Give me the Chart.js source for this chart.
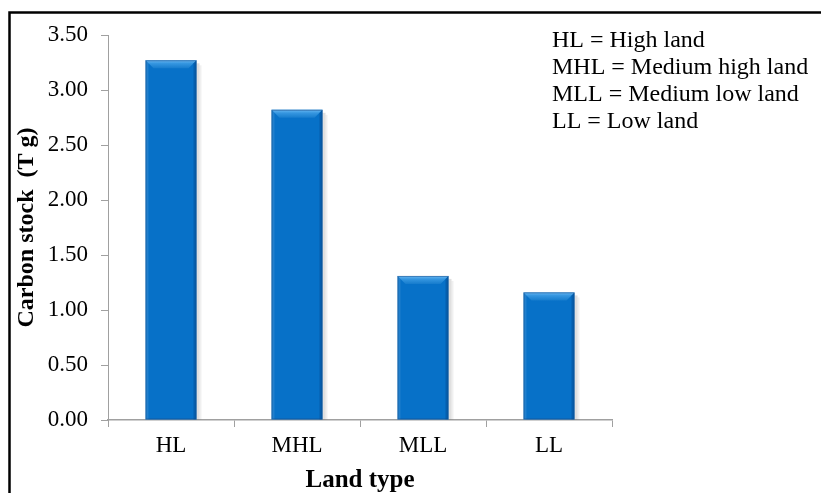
<!DOCTYPE html>
<html>
<head>
<meta charset="utf-8">
<script src="https://cdn.jsdelivr.net/npm/chart.js@4.4.1/dist/chart.umd.min.js"></script>
<style>
  html, body { margin: 0; padding: 0; background: #ffffff; }
  #wrap { position: relative; width: 821px; height: 493px; }
</style>
</head>
<body>
<div id="wrap"><canvas id="c" width="821" height="493"></canvas></div>
<script>
// Land types and their carbon stock (Tg)
const landTypes = ['HL', 'MHL', 'MLL', 'LL'];
const carbonStock = [3.27, 2.82, 1.31, 1.16];
const yTicks = [0, 0.5, 1, 1.5, 2, 2.5, 3, 3.5];
const keyLines = [
  'HL = High land',
  'MHL = Medium high land',
  'MLL = Medium low land',
  'LL = Low land'
];

const SERIF = "'Liberation Serif'";
const AXIS_GREY = '#a0a0a0';

// Bevelled bar face: lighter top chamfer, shaded side edges, soft drop shadow
const bevelBars = {
  id: 'bevelBars',
  beforeDatasetsDraw(chart) {
    const ctx = chart.ctx;
    chart.getDatasetMeta(0).data.forEach(bar => {
      const { x, y, base, width } = bar.getProps(['x', 'y', 'base', 'width'], true);
      ctx.save();
      ctx.fillStyle = 'rgba(0,0,0,0.12)';
      ctx.fillRect(x + width / 2, y + 3, 3, base - y - 3);
      ctx.fillStyle = 'rgba(0,0,0,0.06)';
      ctx.fillRect(x + width / 2 + 3, y + 5, 2, base - y - 5);
      ctx.restore();
    });
  },
  afterDatasetsDraw(chart) {
    const ctx = chart.ctx;
    chart.getDatasetMeta(0).data.forEach(bar => {
      const { x, y, base, width } = bar.getProps(['x', 'y', 'base', 'width'], true);
      const l = x - width / 2, r = x + width / 2, t = y, b = base;
      const bev = 8;
      ctx.save();
      // top chamfer
      const g = ctx.createLinearGradient(0, t, 0, t + bev);
      g.addColorStop(0, '#6ab8f2');
      g.addColorStop(0.4, '#3596e0');
      g.addColorStop(1, '#167ccd');
      ctx.fillStyle = g;
      ctx.beginPath();
      ctx.moveTo(l, t);
      ctx.lineTo(r, t);
      ctx.lineTo(r - bev, t + bev);
      ctx.lineTo(l + bev, t + bev);
      ctx.closePath();
      ctx.fill();
      // left edge
      ctx.fillStyle = 'rgba(255,255,255,0.10)';
      ctx.beginPath();
      ctx.moveTo(l, t);
      ctx.lineTo(l + 3, t + 3);
      ctx.lineTo(l + 3, b);
      ctx.lineTo(l, b);
      ctx.closePath();
      ctx.fill();
      // right edge
      ctx.fillStyle = 'rgba(0,40,90,0.25)';
      ctx.beginPath();
      ctx.moveTo(r, t);
      ctx.lineTo(r - 3, t + 3);
      ctx.lineTo(r - 3, b);
      ctx.lineTo(r, b);
      ctx.closePath();
      ctx.fill();
      // thin outline
      ctx.strokeStyle = 'rgba(20,70,130,0.5)';
      ctx.lineWidth = 1;
      ctx.strokeRect(l + 0.5, t + 0.5, width - 1, b - t - 1);
      ctx.restore();
    });
  }
};

// Abbreviation key in the upper right, plus the outer frame
const keyAndFrame = {
  id: 'keyAndFrame',
  afterDraw(chart) {
    const ctx = chart.ctx;
    ctx.save();
    ctx.fillStyle = '#000000';
    ctx.font = '24px ' + SERIF;
    ctx.textBaseline = 'alphabetic';
    ctx.textAlign = 'left';
    keyLines.forEach((s, i) => ctx.fillText(s, 552, 47 + i * 27));
    ctx.strokeStyle = '#000000';
    ctx.lineWidth = 2.5;
    ctx.beginPath();
    ctx.moveTo(9.5, 493);
    ctx.lineTo(9.5, 12.5);
    ctx.lineTo(821, 12.5);
    ctx.stroke();
    ctx.restore();
  }
};

new Chart(document.getElementById('c'), {
  type: 'bar',
  data: {
    labels: landTypes,
    datasets: [{
      data: carbonStock,
      backgroundColor: '#0771c8',
      borderWidth: 0,
      categoryPercentage: 1,
      barPercentage: 0.405
    }]
  },
  options: {
    responsive: false,
    animation: false,
    devicePixelRatio: 1,
    layout: { padding: { top: 35, right: 209, bottom: 0, left: 0 } },
    plugins: { legend: { display: false }, tooltip: { enabled: false } },
    scales: {
      x: {
        grid: { display: true, drawOnChartArea: false, drawTicks: true, tickLength: 7, color: AXIS_GREY, offset: true },
        border: { color: AXIS_GREY, width: 1.5 },
        ticks: { color: '#000000', font: { family: SERIF, size: 23 }, padding: 5 },
        title: {
          display: true, text: 'Land type', color: '#000000',
          font: { family: SERIF, size: 25, weight: 'bold', lineHeight: 1 },
          padding: { top: 0, bottom: 0 }
        },
        afterFit(s) { s.height = 73; }
      },
      y: {
        min: 0, max: 3.5,
        grid: { display: true, drawOnChartArea: false, drawTicks: true, tickLength: 7, color: AXIS_GREY },
        border: { color: AXIS_GREY, width: 1 },
        afterBuildTicks(s) { s.ticks = yTicks.map(v => ({ value: v })); },
        ticks: {
          color: '#000000', font: { family: SERIF, size: 23 }, padding: 13,
          callback: v => v.toFixed(2)
        },
        title: {
          display: true, text: 'Carbon stock  (T g)', color: '#000000',
          font: { family: SERIF, size: 24, weight: 'bold', lineHeight: 1 },
          padding: { top: 15, bottom: 0 }
        },
        afterFit(s) { s.width = 108; }
      }
    }
  },
  plugins: [bevelBars, keyAndFrame]
});
</script>
</body>
</html>
